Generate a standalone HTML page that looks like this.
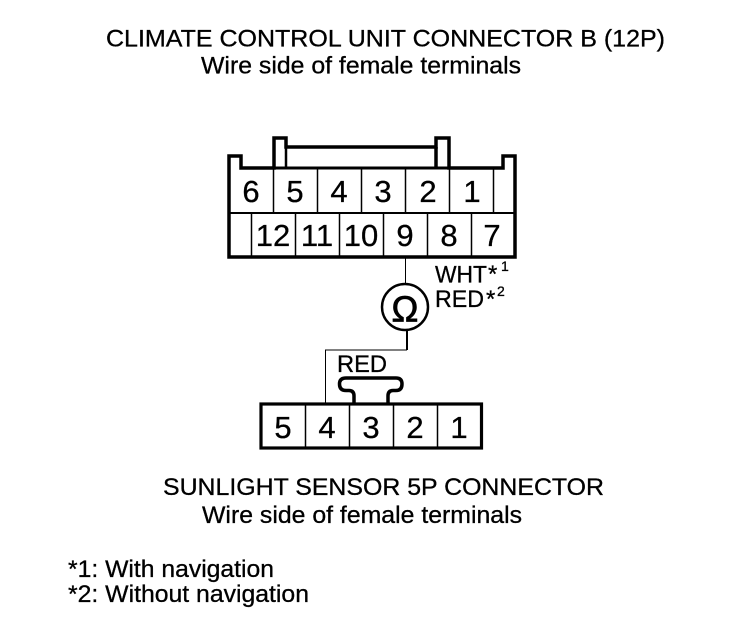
<!DOCTYPE html>
<html>
<head>
<meta charset="utf-8">
<style>
html,body{margin:0;padding:0;background:#fff;width:752px;height:618px;overflow:hidden}
svg{display:block}
text{font-family:"Liberation Sans",Arial,sans-serif;fill:#000;stroke:#000;stroke-width:.3px}
</style>
</head>
<body>
<svg width="752" height="618" viewBox="0 0 752 618" xmlns="http://www.w3.org/2000/svg">
<rect width="752" height="618" fill="#fff"/>

<g font-size="24">
<text x="106" y="46.500" textLength="559" lengthAdjust="spacingAndGlyphs">CLIMATE CONTROL UNIT CONNECTOR B (12P)</text>
<text x="201" y="73.500" textLength="320" lengthAdjust="spacingAndGlyphs">Wire side of female terminals</text>
<text x="163" y="495" textLength="441" lengthAdjust="spacingAndGlyphs">SUNLIGHT SENSOR 5P CONNECTOR</text>
<text x="202" y="523" textLength="320" lengthAdjust="spacingAndGlyphs">Wire side of female terminals</text>
<text x="68" y="577" textLength="206" lengthAdjust="spacingAndGlyphs">*1: With navigation</text>
<text x="68" y="602" textLength="241" lengthAdjust="spacingAndGlyphs">*2: Without navigation</text>
</g>

<!-- Upper connector -->
<path d="M229 257V156H241V168H274V138H286V147H436V138H449V168H503V156H515V257Z" fill="none" stroke="#000" stroke-width="3.500"/>
<path d="M286 147V168" stroke="#000" stroke-width="2.500" fill="none"/>
<path d="M436 147V168" stroke="#000" stroke-width="3.500" fill="none"/>
<path d="M241 168H503" stroke="#000" stroke-width="3" fill="none"/>
<path d="M229 213H515" stroke="#000" stroke-width="2" fill="none"/>
<path d="M273.500 168V213M317.500 168V213M361.500 168V213M405.500 168V213M449.500 168V213M493.500 168V213" stroke="#000" stroke-width="1.500" fill="none"/>
<path d="M251.500 213V257M295.500 213V257M339.500 213V257M383.500 213V257M427.500 213V257M471.500 213V257" stroke="#000" stroke-width="1.500" fill="none"/>

<g font-size="31" text-anchor="middle">
<text x="251" y="202">6</text>
<text x="295" y="202">5</text>
<text x="339" y="202">4</text>
<text x="383" y="202">3</text>
<text x="428" y="202">2</text>
<text x="472" y="202">1</text>
<text x="273" y="246">12</text>
<text x="317" y="246">11</text>
<text x="361" y="246">10</text>
<text x="405" y="246">9</text>
<text x="449" y="246">8</text>
<text x="492" y="246">7</text>
</g>

<!-- Wire and meter -->
<path d="M405.500 258V284" stroke="#000" stroke-width="1" fill="none"/>
<circle cx="405" cy="307" r="23" fill="#fff" stroke="#000" stroke-width="2.500"/>
<text x="405" y="321.500" font-size="36" text-anchor="middle" style="stroke-width:.8px">Ω</text>
<path d="M407 330V350" stroke="#000" stroke-width="2" fill="none"/>
<path d="M407 350H325.500V404" stroke="#000" stroke-width="1" fill="none"/>

<g font-size="24">
<text x="435" y="282.500" textLength="52" lengthAdjust="spacingAndGlyphs">WHT</text>
<text x="488" y="282" font-size="24">*</text>
<text x="501" y="271" font-size="14">1</text>
<text x="435" y="307" textLength="49" lengthAdjust="spacingAndGlyphs">RED</text>
<text x="486" y="307" font-size="24">*</text>
<text x="497" y="296" font-size="14">2</text>
<text x="337" y="372" textLength="50" lengthAdjust="spacingAndGlyphs">RED</text>
</g>

<!-- Clip -->
<path d="M354 404V396Q354 390.500 349 390.500H346Q339.500 390.500 339.500 384Q339.500 378 346 378H396Q402 378 402 384Q402 390.500 396 390.500H393Q388 390.500 388 396V404" fill="#fff" stroke="#000" stroke-width="3.500"/>

<!-- Lower connector -->
<rect x="261" y="404" width="220.500" height="44" fill="#fff" stroke="#000" stroke-width="3.200"/>
<path d="M305.500 404V448M349.500 404V448M393.500 404V448M437.500 404V448" stroke="#000" stroke-width="1.500" fill="none"/>
<g font-size="31" text-anchor="middle">
<text x="283" y="438">5</text>
<text x="327" y="438">4</text>
<text x="371" y="438">3</text>
<text x="415" y="438">2</text>
<text x="459" y="438">1</text>
</g>
</svg>
</body>
</html>
